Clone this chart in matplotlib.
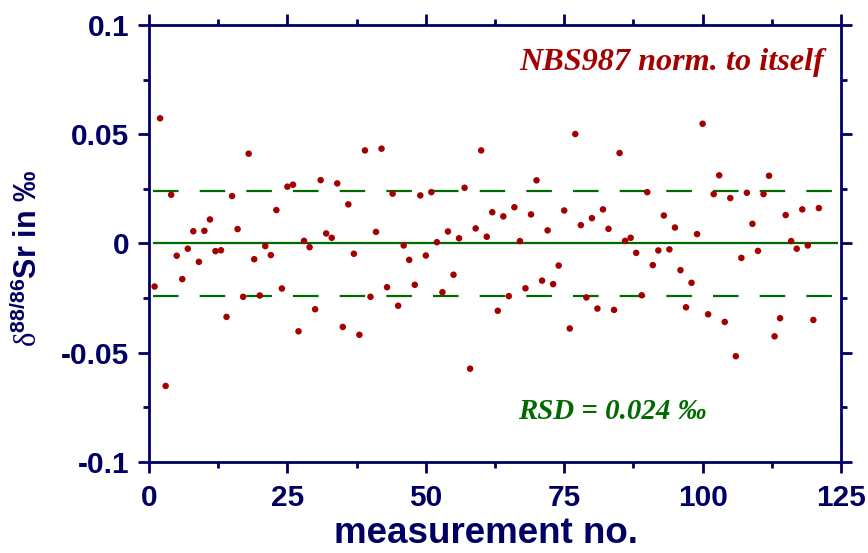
import matplotlib.pyplot as plt
from matplotlib.ticker import MultipleLocator

# measurement numbers 1..121 and their delta values (per mil)
meas_no = list(range(1, 122))
delta = [
    -0.0197, 0.0573, -0.0652, 0.0223, -0.0056, -0.0163, -0.0024, 0.0056, -0.0084, 0.0058,
    0.0110, -0.0035, -0.0031, -0.0336, 0.0217, 0.0066, -0.0244, 0.0411, -0.0072, -0.0238,
    -0.0012, -0.0053, 0.0153, -0.0206, 0.0260, 0.0269, -0.0402, 0.0012, -0.0017, -0.0301,
    0.0290, 0.0046, 0.0026, 0.0275, -0.0382, 0.0179, -0.0047, -0.0418, 0.0426, -0.0244,
    0.0053, 0.0434, -0.0200, 0.0228, -0.0285, -0.0009, -0.0075, -0.0189, 0.0220, -0.0055,
    0.0235, 0.0006, -0.0223, 0.0055, -0.0143, 0.0024, 0.0255, -0.0573, 0.0069, 0.0426,
    0.0031, 0.0143, -0.0308, 0.0124, -0.0241, 0.0166, 0.0011, -0.0205, 0.0133, 0.0289,
    -0.0170, 0.0060, -0.0186, -0.0101, 0.0151, -0.0389, 0.0501, 0.0084, -0.0247, 0.0116,
    -0.0298, 0.0156, 0.0067, -0.0304, 0.0414, 0.0012, 0.0026, -0.0043, -0.0237, 0.0235,
    -0.0099, -0.0032, 0.0128, -0.0027, 0.0073, -0.0122, -0.0292, -0.0180, 0.0043, 0.0548,
    -0.0324, 0.0226, 0.0312, -0.0359, 0.0208, -0.0516, -0.0066, 0.0232, 0.0090, -0.0034,
    0.0226, 0.0310, -0.0425, -0.0342, 0.0130, 0.0011, -0.0024, 0.0156, -0.0009, -0.0350,
    0.0162,
]

mean_val = 0.0
rsd = 0.024
line_x = [0.8, 124.5]

x_ticks = [0, 25, 50, 75, 100, 125]
y_ticks = [-0.1, -0.05, 0, 0.05, 0.1]
y_labels = ["-0.1", "-0.05", "0", "0.05", "0.1"]

navy = "#000064"
red = "#a50000"
green = "#006a00"

plt.rcParams['mathtext.fontset'] = 'custom'
plt.rcParams['mathtext.rm'] = 'Liberation Serif'
plt.rcParams['mathtext.bf'] = 'Liberation Sans:bold'

fig = plt.figure(figsize=(8.68, 5.53), dpi=100)
ax = fig.add_axes([0.1717, 0.1646, 0.7972, 0.7902])

# mean and +/- RSD lines
ax.plot(line_x, [mean_val, mean_val], color=green, lw=1.6, solid_capstyle='butt')
for s in (rsd, -rsd):
    ax.plot(line_x, [mean_val + s, mean_val + s], color=green, lw=1.6,
            dashes=(11.5, 9.5), dash_capstyle='butt')

ax.scatter(meas_no, delta, s=22, color=red, edgecolors='none', zorder=3)

ax.set_xlim(0, 125)
ax.set_ylim(-0.1, 0.1)
ax.set_xticks(x_ticks)
ax.set_yticks(y_ticks)
ax.set_yticklabels(y_labels)
ax.xaxis.set_minor_locator(MultipleLocator(12.5))
ax.yaxis.set_minor_locator(MultipleLocator(0.025))

for sp in ax.spines.values():
    sp.set_color(navy)
    sp.set_linewidth(2)

ax.tick_params(which='both', direction='out', color=navy, width=2,
               top=True, right=True, labelcolor=navy)
ax.tick_params(which='major', length=8)
ax.tick_params(axis='x', which='major', pad=8)
ax.tick_params(axis='y', which='major', pad=6)
ax.tick_params(which='minor', length=4.5)
for lab in ax.get_xticklabels() + ax.get_yticklabels():
    lab.set_fontfamily('Liberation Sans')
    lab.set_fontweight('bold')
    lab.set_fontsize(21.5)

ax.set_xlabel("measurement no.", fontfamily='Liberation Sans', fontweight='bold',
              fontsize=26.5, color=navy)
ax.xaxis.set_label_coords(0.487, -0.124)
ax.set_ylabel(r"$\mathrm{\delta}^{\mathbf{88/86}}$Sr in ‰", fontfamily='Liberation Sans',
              fontweight='bold', fontsize=22, color=navy)
ax.yaxis.set_label_coords(-0.152, 0.465)

ax.text(0.755, 0.915, "NBS987 norm. to itself", transform=ax.transAxes,
        fontfamily='Liberation Serif', fontstyle='italic', fontweight='bold',
        fontsize=23.2, color=red, ha='center', va='center')
ax.text(0.67, 0.116, "RSD = 0.024 ‰", transform=ax.transAxes,
        fontfamily='Liberation Serif', fontstyle='italic', fontweight='bold',
        fontsize=20.8, color=green, ha='center', va='center')

fig.savefig("out.png", dpi=100)
